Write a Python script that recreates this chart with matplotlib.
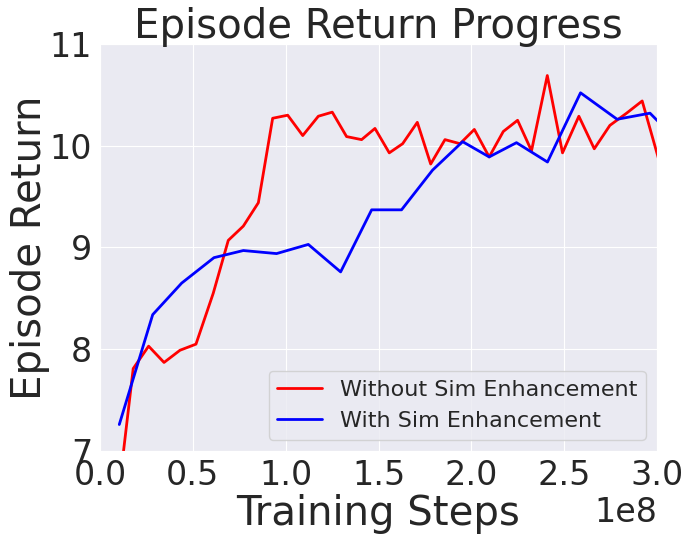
import matplotlib
matplotlib.use("Agg")
import matplotlib.pyplot as plt
import seaborn as sns
import numpy as np

# steps in units of 1e8
steps_without = [0.098, 0.179, 0.262, 0.345, 0.431, 0.517, 0.610, 0.691, 0.772, 0.853,
                 0.930, 1.011, 1.092, 1.176, 1.251, 1.328, 1.409, 1.481, 1.558, 1.630,
                 1.709, 1.781, 1.858, 1.939, 2.016, 2.096, 2.172, 2.249, 2.324, 2.409,
                 2.491, 2.579, 2.662, 2.746, 2.836, 2.920, 3.010]
return_without = [6.55, 7.81, 8.03, 7.87, 7.99, 8.05, 8.55, 9.07, 9.21, 9.44,
                  10.27, 10.30, 10.10, 10.29, 10.33, 10.09, 10.06, 10.17, 9.93, 10.02,
                  10.23, 9.82, 10.06, 10.02, 10.16, 9.89, 10.14, 10.25, 9.95, 10.69,
                  9.93, 10.29, 9.97, 10.20, 10.32, 10.44, 9.86]

steps_with = [0.104, 0.284, 0.440, 0.614, 0.772, 0.951, 1.122, 1.296, 1.463, 1.624,
              1.791, 1.953, 2.096, 2.243, 2.410, 2.588, 2.785, 2.962, 3.130]
return_with = [7.26, 8.34, 8.65, 8.90, 8.97, 8.94, 9.03, 8.76, 9.37, 9.37,
               9.76, 10.04, 9.89, 10.03, 9.84, 10.52, 10.26, 10.32, 10.01]

x_ticks = [0.0, 0.5, 1.0, 1.5, 2.0, 2.5, 3.0]
y_ticks = [7, 8, 9, 10, 11]

sns.set_style("darkgrid")
plt.rcParams['font.family'] = ['DejaVu Sans']

fig, ax = plt.subplots(figsize=(6.88, 5.41), dpi=100)
fig.subplots_adjust(left=0.1453, right=0.955, top=0.9187, bottom=0.1664)

ax.plot(np.array(steps_without) * 1e8, return_without, color='red', linewidth=2,
        label='Without Sim Enhancement')
ax.plot(np.array(steps_with) * 1e8, return_with, color='blue', linewidth=2,
        label='With Sim Enhancement')

ax.set_xlim(0, 3.0e8)
ax.set_ylim(7, 11)
ax.set_xticks(np.array(x_ticks) * 1e8)
ax.set_yticks(y_ticks)
ax.set_title('Episode Return Progress', fontsize=29, pad=4)
ax.set_xlabel('Training Steps', fontsize=29, labelpad=2)
ax.set_ylabel('Episode Return', fontsize=29, labelpad=0)
ax.tick_params(axis='both', labelsize=24, pad=2)
ax.xaxis.get_offset_text().set_fontsize(24)
ax.legend(loc='lower right', fontsize=16)

fig.savefig('out.png', dpi=100)
